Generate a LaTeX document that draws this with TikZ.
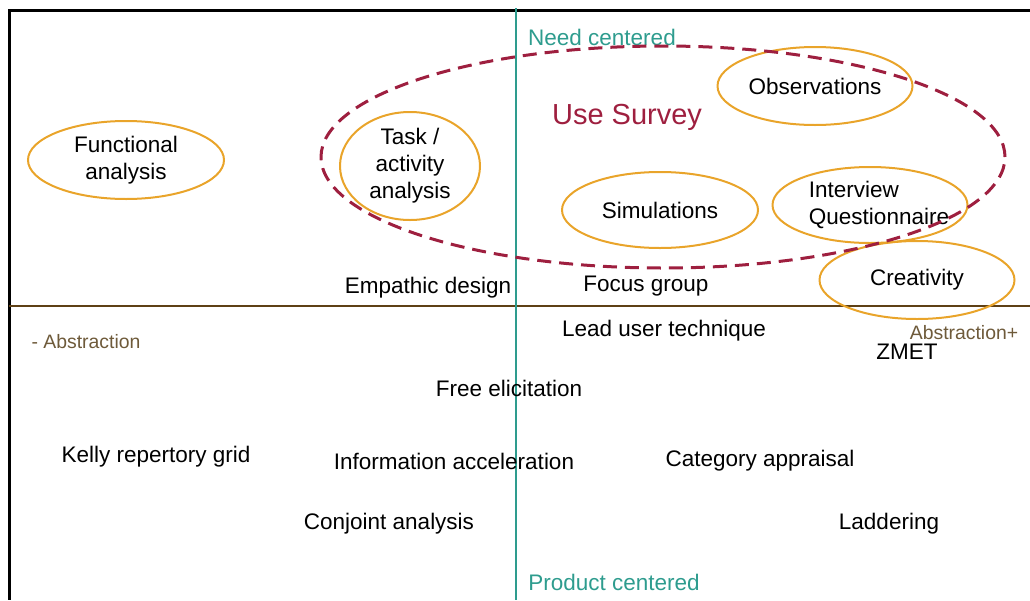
\documentclass[tikz,border=0pt]{standalone}
\usepackage{fontspec}
\setmainfont{Liberation Sans}
\usetikzlibrary{shapes.geometric}
\definecolor{methodorange}{HTML}{E9A42A}
\definecolor{surveyred}{HTML}{9E1F3F}
\definecolor{axisteal}{HTML}{2E9C8E}
\definecolor{axisbrown}{HTML}{5E4015}
\definecolor{abstrtext}{HTML}{6E5A3A}
\begin{document}
\begin{tikzpicture}[x=1pt,y=-1pt,
  every node/.style={inner sep=0pt, font=\fontsize{22.5}{27}\selectfont},
  method/.style={ellipse, draw=methodorange, line width=2pt, align=center},
  label/.style={text=black},
  axislabel/.style={text=axisteal},
  abstrlabel/.style={text=abstrtext, font=\fontsize{19.4}{23}\selectfont},
  survey/.style={ellipse, draw=surveyred, line width=3pt, dash pattern=on 14pt off 8pt},
]
\useasboundingbox (0,0) rectangle (1030,600);

% frame and axes
\coordinate (tl) at (9,10);
\coordinate (tr) at (1030,10);
\coordinate (bl) at (9,600);
\coordinate (ml) at (9,306);
\coordinate (mr) at (1030,306);
\coordinate (vt) at (516,8);
\coordinate (vb) at (516,600);
\draw[line width=3pt, black] (tr) -- (tl) -- (bl);
\draw[line width=2.8pt, axisbrown] (ml) -- (mr);
\draw[line width=2.5pt, axisteal] (vt) -- (vb);

% axis labels
\node[axislabel] (need) at (602,37) {Need centered};
\node[axislabel] (product) at (614,582) {Product centered};
\node[abstrlabel] (absminus) at (86,342) {- Abstraction};
\node[abstrlabel] (absplus) at (964,333) {Abstraction+};

% circled methods
\node[method, minimum width=196pt, minimum height=78pt] (functional) at (126,160) {Functional\\analysis};
\node[method, minimum width=140pt, minimum height=108pt] (task) at (410,166) {Task /\\activity\\analysis};
\node[method, minimum width=195pt, minimum height=78pt] (obs) at (815,86) {Observations};
\node[method, minimum width=196pt, minimum height=76pt] (sim) at (660,210) {Simulations};
\node[method, minimum width=195pt, minimum height=76pt] (interview) at (870,205) {};
\node[label, align=left] (interviewtext) at (879,205) {Interview\\Questionnaire};
\node[method, minimum width=195pt, minimum height=78pt] (creativity) at (917,280) {Creativity};

% use survey grouping
\node[survey, minimum width=684pt, minimum height=222pt] (usesurvey) at (663,157) {};
\node[text=surveyred, font=\fontsize{29}{33}\selectfont] (surveytitle) at (627,117) {Use Survey};

% other methods
\node[label] (empathic) at (428,288) {Empathic design};
\node[label] (focus) at (646,286) {Focus group};
\node[label] (lead) at (664,331) {Lead user technique};
\node[label] (zmet) at (907,352) {ZMET};
\node[label] (free) at (509,388) {Free elicitation};
\node[label] (kelly) at (156,457) {Kelly repertory grid};
\node[label] (info) at (454,461) {Information acceleration};
\node[label] (category) at (760,461) {Category appraisal};
\node[label] (conjoint) at (389,524) {Conjoint analysis};
\node[label] (laddering) at (889,524) {Laddering};
\end{tikzpicture}
\end{document}
